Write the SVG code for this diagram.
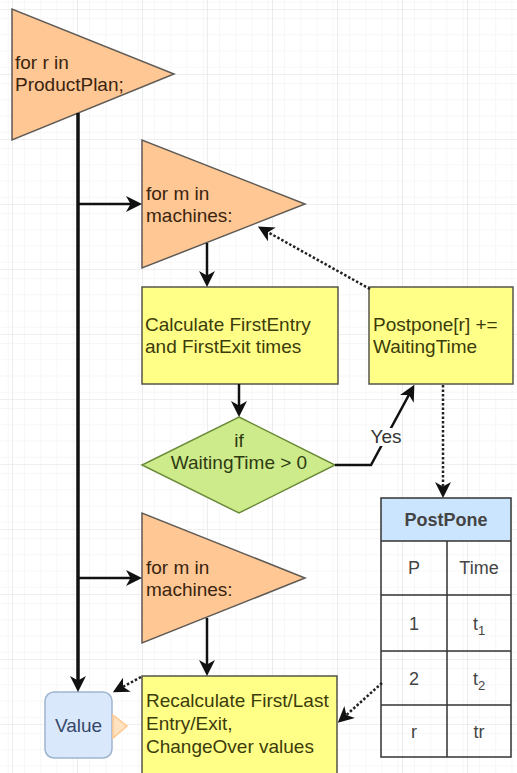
<svg xmlns="http://www.w3.org/2000/svg" width="517" height="773" viewBox="0 0 517 773">
  <defs>
    <pattern id="gridMinor" x="12" y="9" width="16.25" height="16.25" patternUnits="userSpaceOnUse">
      <path d="M0,0 H16.25 M0,0 V16.25" fill="none" stroke="#f0f0f0" stroke-width="1"/>
    </pattern>
    <pattern id="gridMajor" x="12" y="9" width="65" height="65" patternUnits="userSpaceOnUse">
      <rect width="65" height="65" fill="url(#gridMinor)"/>
      <path d="M0,0 H65 M0,0 V65" fill="none" stroke="#e0e0e0" stroke-width="1.2"/>
    </pattern>
    <marker id="arrow" viewBox="0 0 16 16" refX="9" refY="8" markerWidth="16" markerHeight="16" markerUnits="userSpaceOnUse" orient="auto">
      <path d="M0,0 L16,8 L0,16 L4.5,8 z" fill="#111"/>
    </marker>
  </defs>
  <style>
    .loop { fill: #ffc794; stroke: #5e5a55; stroke-width: 1.5; }
    .step { fill: #ffff88; stroke: #55554a; stroke-width: 1.5; }
    .cond { fill: #cdeb8b; stroke: #6b8a3a; stroke-width: 1.5; }
    .val { fill: #dae8fc; stroke: #9fb4cf; stroke-width: 1.5; }
    .tbl { fill: none; stroke: #333; stroke-width: 1.5; }
    text { font-family: "Liberation Sans", Arial, sans-serif; font-size: 19px; }
    .tLoop { fill: #3a2410; }
    .tStep { fill: #3c3c0a; }
    .tCond { fill: #2e3a12; text-anchor: middle; }
    .tVal { fill: #34486a; text-anchor: middle; }
    .tTbl { fill: #444; text-anchor: middle; font-size: 18px; }
    .flow { fill: none; stroke: #111; stroke-width: 2.5; marker-end: url(#arrow); }
    .spine { fill: none; stroke: #111; stroke-width: 3.5; marker-end: url(#arrow); }
    .dep { fill: none; stroke: #222; stroke-width: 2.5; stroke-dasharray: 2.5 2; marker-end: url(#arrow); }
  </style>

  <!-- background grid -->
  <rect width="517" height="773" fill="#ffffff"/>
  <rect width="517" height="773" fill="url(#gridMajor)"/>

  <!-- nodes -->
  <g id="loop-products">
    <polygon class="loop" points="12,9 12,140 174,74"/>
    <text class="tLoop" x="15" y="69">for r in</text>
    <text class="tLoop" x="15" y="91">ProductPlan;</text>
  </g>

  <g id="loop-machines-1">
    <polygon class="loop" points="142,140 142,268 305,204"/>
    <text class="tLoop" x="146" y="200">for m in</text>
    <text class="tLoop" x="146" y="222">machines:</text>
  </g>

  <g id="calc-first">
    <rect class="step" x="142" y="287" width="196" height="97"/>
    <text class="tStep" x="145" y="331">Calculate FirstEntry</text>
    <text class="tStep" x="145" y="353">and FirstExit times</text>
  </g>

  <g id="postpone-update">
    <rect class="step" x="369" y="287" width="144" height="97"/>
    <text class="tStep" x="373" y="331">Postpone[r] +=</text>
    <text class="tStep" x="373" y="353">WaitingTime</text>
  </g>

  <g id="check-waiting">
    <polygon class="cond" points="239,417 335,465 239,513 142,465"/>
    <text class="tCond" x="239" y="447">if</text>
    <text class="tCond" x="239" y="469">WaitingTime &gt; 0</text>
  </g>

  <g id="loop-machines-2">
    <polygon class="loop" points="142,513 142,643 305,578"/>
    <text class="tLoop" x="146" y="574">for m in</text>
    <text class="tLoop" x="146" y="596">machines:</text>
  </g>

  <g id="recalc">
    <rect class="step" x="142" y="676" width="195" height="120"/>
    <text class="tStep" x="146" y="707">Recalculate First/Last</text>
    <text class="tStep" x="146" y="730">Entry/Exit,</text>
    <text class="tStep" x="146" y="753">ChangeOver values</text>
  </g>

  <g id="value">
    <rect class="val" x="45" y="692" width="67" height="66" rx="9" ry="9"/>
    <polygon points="113,715 127,726 113,738" fill="#ffe2c0" stroke="#ffc98f" stroke-width="1.5"/>
    <text class="tVal" x="78.5" y="732">Value</text>
  </g>

  <g id="postpone-table">
    <rect x="381" y="498" width="130" height="43" fill="#cce5ff"/>
    <rect class="tbl" x="381" y="498" width="130" height="259"/>
    <path class="tbl" d="M381,541 H511 M381,595 H511 M381,651 H511 M381,705 H511 M447,541 V757"/>
    <text class="tTbl" x="446" y="526" font-weight="bold" fill="#222">PostPone</text>
    <text class="tTbl" x="414" y="574">P</text>
    <text class="tTbl" x="479" y="574">Time</text>
    <text class="tTbl" x="414" y="630">1</text>
    <text class="tTbl" x="479" y="630">t<tspan font-size="13" dy="5">1</tspan></text>
    <text class="tTbl" x="414" y="685">2</text>
    <text class="tTbl" x="479" y="685">t<tspan font-size="13" dy="5">2</tspan></text>
    <text class="tTbl" x="414" y="738">r</text>
    <text class="tTbl" x="479" y="738">tr</text>
  </g>

  <!-- connectors -->
  <g id="connectors">
    <path class="spine" d="M78,113 V685"/>
    <path class="flow" d="M78,204 H135"/>
    <path class="flow" d="M78,578 H135"/>
    <path class="flow" d="M207,243 V280"/>
    <path class="flow" d="M239,384 V410"/>
    <path class="flow" d="M207,618 V669"/>
    <path class="flow" d="M335,465 H371 L411,391"/>
    <path class="dep" d="M370,289 L264,230"/>
    <path class="dep" d="M443,385 V491"/>
    <path class="dep" d="M141,677 L119,689"/>
    <path class="dep" d="M382,683 L343,718"/>
    <rect x="371" y="428" width="30" height="18" fill="#ffffff"/>
    <text x="386" y="443" text-anchor="middle" font-size="16" fill="#333">Yes</text>
  </g>
</svg>
